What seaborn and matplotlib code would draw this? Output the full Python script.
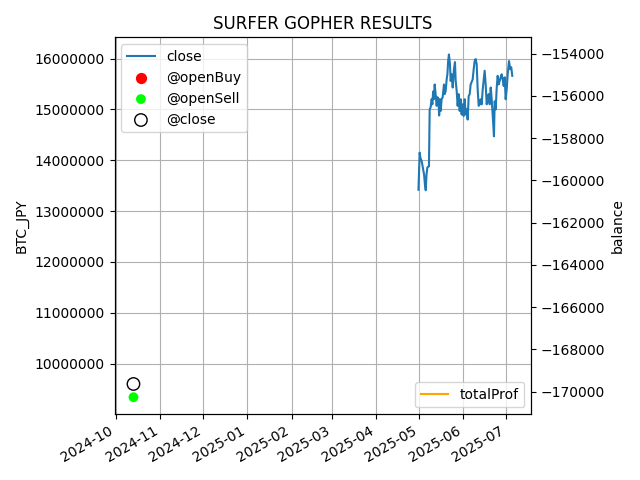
import matplotlib
matplotlib.use("Agg")
import matplotlib.pyplot as plt
import matplotlib.dates as mdates
import seaborn as sns
import pandas as pd

# close price series (BTC_JPY)
close_dates = [
    "2025-04-30 14:00", "2025-05-01 10:00", "2025-05-01 22:00", "2025-05-02 22:00",
    "2025-05-04 12:00", "2025-05-05 03:00", "2025-05-05 16:00", "2025-05-06 05:00",
    "2025-05-06 20:00", "2025-05-07 22:00", "2025-05-08 10:00", "2025-05-09 02:00",
    "2025-05-09 19:00", "2025-05-10 07:00", "2025-05-10 20:00", "2025-05-11 08:00",
    "2025-05-11 22:00", "2025-05-12 14:00", "2025-05-13 07:00", "2025-05-14 00:00",
    "2025-05-14 12:00", "2025-05-15 01:00", "2025-05-15 14:00", "2025-05-16 02:00",
    "2025-05-16 19:00", "2025-05-17 12:00", "2025-05-18 10:00", "2025-05-18 21:00",
    "2025-05-19 14:00", "2025-05-20 07:00", "2025-05-20 19:00", "2025-05-21 08:00",
    "2025-05-21 21:00", "2025-05-22 14:00", "2025-05-23 02:00", "2025-05-23 19:00",
    "2025-05-24 12:00", "2025-05-25 09:00", "2025-05-26 02:00", "2025-05-26 14:00",
    "2025-05-27 07:00", "2025-05-27 23:00", "2025-05-28 16:00", "2025-05-29 09:00",
    "2025-05-30 02:00", "2025-05-30 18:00", "2025-05-31 11:00", "2025-06-01 04:00",
    "2025-06-01 21:00", "2025-06-02 13:00", "2025-06-03 06:00", "2025-06-03 23:00",
    "2025-06-04 16:00", "2025-06-05 09:00", "2025-06-06 01:00", "2025-06-07 11:00",
    "2025-06-08 04:00", "2025-06-08 20:00", "2025-06-09 13:00", "2025-06-10 06:00",
    "2025-06-10 23:00", "2025-06-11 16:00", "2025-06-12 08:00", "2025-06-13 01:00",
    "2025-06-13 18:00", "2025-06-14 11:00", "2025-06-15 20:00", "2025-06-16 13:00",
    "2025-06-17 06:00", "2025-06-17 23:00", "2025-06-18 15:00", "2025-06-19 08:00",
    "2025-06-20 01:00", "2025-06-20 18:00", "2025-06-21 10:00", "2025-06-22 08:00",
    "2025-06-22 20:00", "2025-06-23 13:00", "2025-06-24 06:00", "2025-06-24 22:00",
    "2025-06-25 15:00", "2025-06-26 08:00", "2025-06-27 00:00", "2025-06-27 17:00",
    "2025-06-28 10:00", "2025-06-29 03:00", "2025-06-29 20:00", "2025-06-30 12:00",
    "2025-07-01 05:00", "2025-07-01 22:00", "2025-07-02 20:00", "2025-07-03 16:00",
    "2025-07-04 09:00", "2025-07-05 03:00",
]
close_values = [
    13420000, 14150000, 14050000, 13970000, 13720000, 13520000, 13410000, 13720000,
    13860000, 13880000, 15000000, 15040000, 15200000, 15100000, 15350000, 15200000,
    15490000, 15300000, 15070000, 15240000, 15200000, 14880000, 15200000, 14970000,
    15200000, 15240000, 15490000, 15300000, 15360000, 15590000, 15690000, 15950000,
    16080000, 15890000, 15560000, 15690000, 15430000, 15790000, 15930000, 15560000,
    15360000, 15070000, 15300000, 14970000, 15200000, 14900000, 15100000, 14870000,
    15200000, 14900000, 15000000, 14800000, 15260000, 15300000, 15490000, 15590000,
    15790000, 15950000, 15990000, 15890000, 15390000, 15070000, 15100000, 15200000,
    15100000, 15390000, 15760000, 15490000, 15100000, 15200000, 15300000, 15100000,
    15430000, 15200000, 14900000, 14470000, 15160000, 15000000, 15430000, 15660000,
    15490000, 15560000, 15630000, 15690000, 15590000, 15460000, 15630000, 15200000,
    15390000, 15690000, 15950000, 15790000, 15830000, 15660000,
]

# trade markers
open_buy_dates = []
open_buy_values = []
open_sell_dates = ["2024-10-13 12:00"]
open_sell_values = [9340000]
close_mark_dates = ["2024-10-13 12:00"]
close_mark_values = [9600000]

# balance (single sample)
prof_dates = ["2024-10-13 12:00"]
prof_values = [-162150]

df_close = pd.DataFrame({"date": pd.to_datetime(close_dates), "close": close_values})
df_sell = pd.DataFrame({"date": pd.to_datetime(open_sell_dates), "v": open_sell_values})
df_cmark = pd.DataFrame({"date": pd.to_datetime(close_mark_dates), "v": close_mark_values})
df_prof = pd.DataFrame({"date": pd.to_datetime(prof_dates), "v": prof_values})

fig, ax = plt.subplots(figsize=(6.4, 4.8), dpi=100)

sns.lineplot(data=df_close, x="date", y="close", ax=ax, color="#1f77b4",
             linewidth=1.5, label="close", estimator=None)
ax.scatter(pd.to_datetime(open_buy_dates), open_buy_values, color="red", s=50,
           label="@openBuy")
sns.scatterplot(data=df_sell, x="date", y="v", ax=ax, color="#00ff00", s=50,
                edgecolor="none", label="@openSell")
sns.scatterplot(data=df_cmark, x="date", y="v", ax=ax, facecolor="none",
                edgecolor="black", linewidth=1.0, s=80, label="@close")

ax.set_xlabel("")
ax.set_ylabel("BTC_JPY")
ax.ticklabel_format(style="plain", axis="y", useOffset=False)
ax.grid(True, color="#b0b0b0", linewidth=0.8)
ax.set_axisbelow(True)
ax.legend(loc="upper left")

ax2 = ax.twinx()
sns.lineplot(data=df_prof, x="date", y="v", ax=ax2, color="orange",
             label="totalProf", estimator=None)
ax2.set_ylabel("balance")
ax2.set_xlabel("")
ax2.ticklabel_format(style="plain", axis="y", useOffset=False)
ax2.legend(loc="lower right")

ax.xaxis.set_major_locator(mdates.MonthLocator())
ax.xaxis.set_major_formatter(mdates.DateFormatter("%Y-%m"))
ax.set_title("SURFER GOPHER RESULTS")
fig.autofmt_xdate()
fig.tight_layout()
fig.savefig("out.png", dpi=100)
